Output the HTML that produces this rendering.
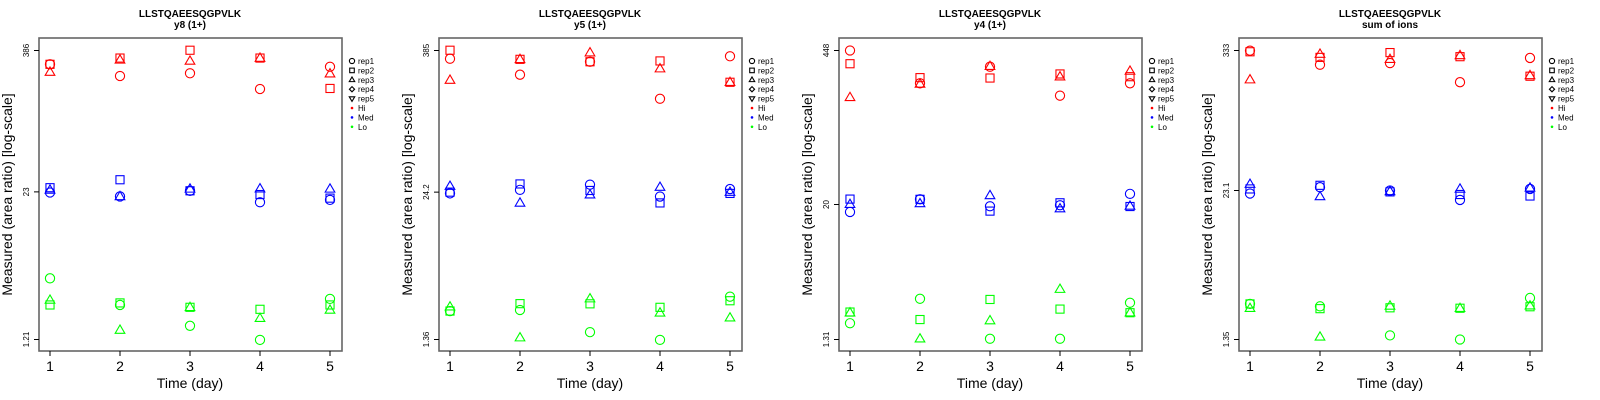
<!DOCTYPE html>
<html><head><meta charset="utf-8"><style>
html,body{margin:0;padding:0;background:#fff;}
svg{display:block;font-family:"Liberation Sans",sans-serif;}
</style></head><body>
<svg id="chart" width="1600" height="400" viewBox="0 0 1600 400" xmlns="http://www.w3.org/2000/svg"></svg>
<script>
const days = [1, 2, 3, 4, 5];
const peptide = "LLSTQAEESQGPVLK";
const subtitles = ["y8 (1+)", "y5 (1+)", "y4 (1+)", "sum of ions"];
const tickLabels = [["1.21","23","386"],["1.36","24.2","385"],["1.31","20","448"],["1.35","23.1","333"]];
const tickValues = [[1.21,23,386],[1.36,24.2,385],[1.31,20,448],[1.35,23.1,333]];
const legendLabels = ["rep1","rep2","rep3","rep4","rep5","Hi","Med","Lo"];
// values: [rep1, rep2, rep3] per day
const y8Hi = [[293,232,245,179,279],[293,332,388,332,181],[251,320,313,332,243]];
const y8Med = [[22.7,21.0,23.5,18.7,19.6],[25.0,29.3,23.5,21.8,20.3],[23.9,21.0,24.4,24.5,24.4]];
const y8Lo = [[4.10,2.41,1.59,1.20,2.72],[2.41,2.51,2.30,2.21,2.41],[2.66,1.46,2.30,1.85,2.18]];
const y5Hi = [[328,240,309,150,344],[387,324,309,314,207],[216,324,369,270,207]];
const y5Med = [[23.6,25.3,28.0,22.2,25.7],[24.2,28.4,25.0,19.6,23.6],[27.2,19.6,23.0,26.7,24.2]];
const y5Lo = [[2.37,2.42,1.57,1.35,3.14],[2.37,2.74,2.73,2.55,2.90],[2.58,1.41,3.02,2.29,2.08]];
const y4Hi = [[448,231,323,180,231],[343,259,257,279,264],[174,228,326,264,296]];
const y4Med = [[17.2,22.2,19.3,19.7,24.8],[22.3,22.2,17.5,20.7,19.2],[20.1,20.4,24.0,18.4,19.4]];
const y4Lo = [[1.82,2.98,1.33,1.33,2.75],[2.28,1.96,2.94,2.42,2.25],[2.25,1.33,1.92,3.62,2.25]];
const sumHi = [[332,254,262,182,289],[325,292,320,296,204],[191,311,282,303,207]];
const sumMed = [[21.8,24.6,23.1,19.3,23.8],[23.8,25.5,22.5,21.4,20.8],[26.1,20.6,22.7,23.8,24.3]];
const sumLo = [[2.66,2.54,1.46,1.35,2.98],[2.66,2.43,2.47,2.45,2.52],[2.45,1.42,2.56,2.45,2.57]];
const panelData = [[y8Hi,y8Med,y8Lo],[y5Hi,y5Med,y5Lo],[y4Hi,y4Med,y4Lo],[sumHi,sumMed,sumLo]];
const groupColors = ["#ff0000","#0000ff","#00ff00"];
const groupNames = ["hi","med","lo"];
const shapes = ["circle","square","triangle","diamond","triangle-down"];

const NS = "http://www.w3.org/2000/svg";
const svg = document.getElementById("chart");
function mk(tag, attrs, parent){
  const e = document.createElementNS(NS, tag);
  for (const k in attrs) e.setAttribute(k, attrs[k]);
  (parent||svg).appendChild(e);
  return e;
}
function shapeEl(kind, cx, cy, s, color, parent){
  let e;
  if (kind === "circle") e = mk("circle",{cx:cx,cy:cy,r:s,fill:"none",stroke:color,"stroke-width":1.1},parent);
  else if (kind === "square") e = mk("rect",{x:cx-s*0.88,y:cy-s*0.88,width:s*1.76,height:s*1.76,fill:"none",stroke:color,"stroke-width":1.1},parent);
  else if (kind === "triangle") e = mk("polygon",{points:`${cx-s*1.05},${cy+s*0.7} ${cx+s*1.05},${cy+s*0.7} ${cx},${cy-s*1.1}`,fill:"none",stroke:color,"stroke-width":1.1},parent);
  else if (kind === "diamond") e = mk("polygon",{points:`${cx},${cy-s} ${cx+s},${cy} ${cx},${cy+s} ${cx-s},${cy}`,fill:"none",stroke:color,"stroke-width":1.1},parent);
  else e = mk("polygon",{points:`${cx-s*1.05},${cy-s*0.7} ${cx+s*1.05},${cy-s*0.7} ${cx},${cy+s*1.1}`,fill:"none",stroke:color,"stroke-width":1.1},parent);
  return e;
}

for (let p = 0; p < 4; p++) {
  const ox = p * 400;
  const g = mk("g", {});
  
  
  const L = ox + 39, R = ox + 342, T = 38, B = 351;
  const yTopPx = 50.5, yBotPx = 339.5;
  const tv = tickValues[p];
  const lmin = Math.log(tv[0]), lmax = Math.log(tv[tv.length-1]);
  const yScale = v => yBotPx - (Math.log(v) - lmin) / (lmax - lmin) * (yBotPx - yTopPx);
  const xScale = d => ox + 50 + (d - 1) * 70;

  const t1 = mk("text",{x:ox+190,y:17,"text-anchor":"middle","font-size":"10","font-weight":"bold",fill:"#000"},g);
  t1.textContent = peptide;
  
  
  const t2 = mk("text",{x:ox+190,y:28,"text-anchor":"middle","font-size":"10","font-weight":"bold",fill:"#000"},g);
  t2.textContent = subtitles[p];
  
  

  const frame = mk("rect",{x:L,y:T,width:R-L,height:B-T,fill:"none",stroke:"#666","stroke-width":1.6},g);
  
  

  days.forEach(d => {
    const x = xScale(d);
    const tk = mk("line",{x1:x,y1:B,x2:x,y2:B+5,stroke:"#000","stroke-width":1},g);
    
    
    const lb = mk("text",{x:x,y:B+20,"text-anchor":"middle","font-size":"14",fill:"#000"},g);
    lb.textContent = String(d);
    
    
  });
  const xt = mk("text",{x:ox+190,y:388,"text-anchor":"middle","font-size":"14",fill:"#000"},g);
  xt.textContent = "Time (day)";
  
  

  tv.forEach((v, i) => {
    const y = yScale(v);
    const tk = mk("line",{x1:L-5,y1:y,x2:L,y2:y,stroke:"#000","stroke-width":1},g);
    
    
    const lb = mk("text",{x:0,y:0,"text-anchor":"middle","font-size":"8",fill:"#000",transform:`translate(${ox+29},${y}) rotate(-90)`},g);
    lb.textContent = tickLabels[p][i];
    
    
  });
  const yt = mk("text",{x:0,y:0,"text-anchor":"middle","font-size":"14",fill:"#000",transform:`translate(${ox+12},${(T+B)/2}) rotate(-90)`},g);
  yt.textContent = "Measured (area ratio) [log-scale]";
  
  

  panelData[p].forEach((grp, gi) => {
    grp.forEach((vals, ri) => {
      vals.forEach((v, di) => {
        const m = shapeEl(shapes[ri], xScale(days[di]), yScale(v), 4.6, groupColors[gi], g);
        
        
      });
    });
  });

  const lg = mk("g",{},g);
  
  
  legendLabels.forEach((lab, i) => {
    const y = 61 + i * 9.4;
    const cx = ox + 352;
    let sym;
    if (i < 5) sym = shapeEl(shapes[i], cx, y, 2.6, "#000", lg);
    else sym = mk("circle",{cx:cx,cy:y,r:1.3,fill:groupColors[i-5]},lg);
    
    
    const tx = mk("text",{x:ox+358,y:y+3,"font-size":"8",fill:"#000"},lg);
    tx.textContent = lab;
    
    
  });
}
</script>
</body></html>
